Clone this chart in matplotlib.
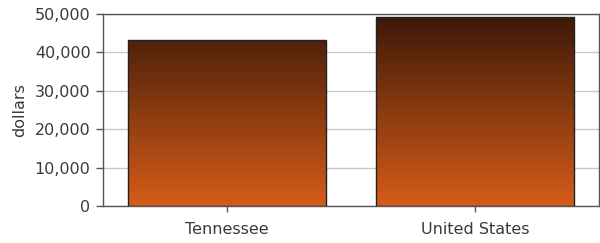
import numpy as np
import matplotlib
matplotlib.use("Agg")
import matplotlib.pyplot as plt
from matplotlib.colors import LinearSegmentedColormap
from matplotlib.ticker import FuncFormatter

categories = ["Tennessee", "United States"]
values = [43300, 49300]
yticks = [0, 10000, 20000, 30000, 40000, 50000]

fig = plt.figure(figsize=(6.0, 2.43), dpi=100)
ax = fig.add_axes([103/600, 1-206/243, 496/600, 192/243])

x = np.arange(len(categories))
bars = ax.bar(x, values, width=0.8, color="none", edgecolor="#222222", linewidth=1.0, zorder=3)

ax.set_xlim(-0.5, 1.5)
ax.set_ylim(0, 50000)

cmap = LinearSegmentedColormap.from_list("g", ["#d65c18", "#3a1808"])
grad = np.linspace(0, 1, 256).reshape(-1, 1)
for b in bars:
    x0, y0 = b.get_x(), b.get_y()
    w, h = b.get_width(), b.get_height()
    top = y0 + h
    frac = top / 50000
    im = ax.imshow(grad[: int(256 * frac)], extent=[x0, x0 + w, y0, top], origin="lower",
                   aspect="auto", cmap=cmap, vmin=0, vmax=1, zorder=2)
    im.set_clip_path(b)

ax.set_xlim(-0.5, 1.5)
ax.set_ylim(0, 50000)
ax.set_xticks(x)
ax.set_xticklabels(categories)
ax.set_yticks(yticks)
ax.yaxis.set_major_formatter(FuncFormatter(lambda v, p: f"{int(v):,}"))
ax.set_ylabel("dollars", color="#3a3a3a", fontsize=11.5)
ax.yaxis.set_label_coords(-0.153, 0.5)

ax.grid(axis="y", color="#c8c8c8", linewidth=1.0, zorder=0)
ax.set_axisbelow(True)
for s in ax.spines.values():
    s.set_color("#555555")
    s.set_linewidth(1.0)
ax.tick_params(axis="y", colors="#555555", labelcolor="#3a3a3a", labelsize=11.5, length=5, width=1, pad=4)
ax.tick_params(axis="x", colors="#555555", labelcolor="#3a3a3a", labelsize=11.5, length=4.5, width=1, pad=7)

fig.savefig("out.png", dpi=100)
